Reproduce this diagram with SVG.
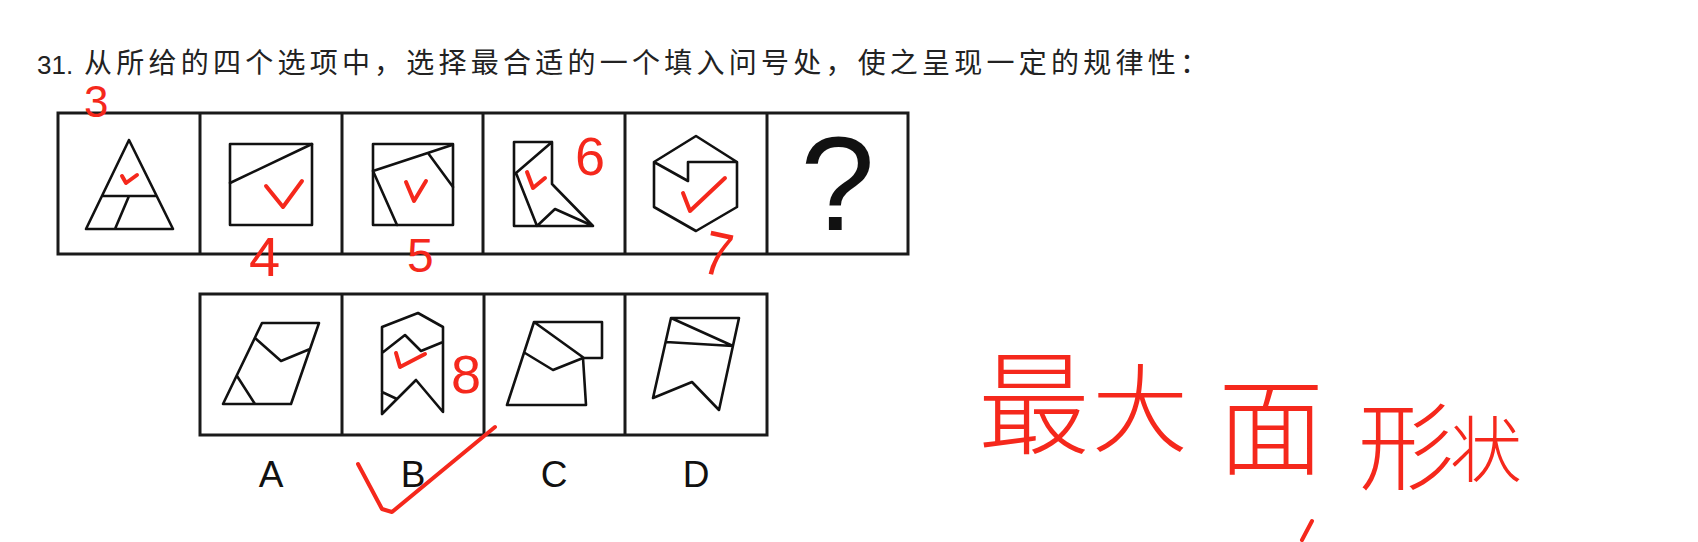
<svg xmlns="http://www.w3.org/2000/svg" width="1698" height="542" viewBox="0 0 1698 542">
<style>
.box{fill:none;stroke:#1a1a1a;stroke-width:3}
.fig{fill:none;stroke:#111;stroke-width:2.6;stroke-linejoin:round;stroke-linecap:round}
.red{fill:none;stroke:#f5281c;stroke-width:4;stroke-linecap:round;stroke-linejoin:round}
.rt{fill:#f5281c;font-family:"Liberation Sans",sans-serif}
.hw{fill:#f5281c;font-family:"Noto Sans CJK SC",sans-serif;font-weight:300}
.lbl{fill:#111;font-family:"Liberation Sans",sans-serif;font-size:37px;text-anchor:middle}
</style>
<rect width="1698" height="542" fill="#fff"/>
<g id="title">
<text x="37" y="74" font-family="Liberation Sans,sans-serif" font-size="26" fill="#222">31.</text>
<text x="84" y="73" font-family="Noto Sans CJK SC,sans-serif" font-size="28" fill="#222" textLength="1124" lengthAdjust="spacing">从所给的四个选项中，选择最合适的一个填入问号处，使之呈现一定的规律性：</text>
</g>
<g id="row1">
<rect class="box" x="58" y="113" width="850" height="141"/>
<path class="box" d="M200 113V254M342 113V254M483 113V254M625 113V254M767 113V254"/>
</g>
<g id="fig1">
<path class="fig" d="M129 140L86 229H173Z M103 196H156 M129 196L115 229"/>
</g>
<g id="fig2">
<rect class="fig" x="230" y="144" width="82" height="81"/>
<path class="fig" d="M230 183L312 144"/>
</g>
<g id="fig3">
<rect class="fig" x="373" y="144" width="80" height="81"/>
<path class="fig" d="M373 171L452 145 M428 153L453 187 M373 171L397 225"/>
</g>
<g id="fig4">
<path class="fig" d="M552 184V142H514V226H593L552 184 M552 142L516 173L537 226 M537 226L555 209L593 226"/>
</g>
<g id="fig5">
<path class="fig" d="M696 136L737 162V207L696 231L654 207V162Z M654 162L688 181V162H737"/>
</g>
<g id="fig6">
<text x="837.5" y="230" font-family="Liberation Sans,sans-serif" font-size="134" text-anchor="middle" fill="#111">?</text>
</g>
<g id="row2">
<rect class="box" x="200" y="294" width="567" height="141"/>
<path class="box" d="M342 294V435M484 294V435M625 294V435"/>
</g>
<g id="optA">
<path class="fig" d="M262 323H319L291 404H223Z M255 338L281 361L310 349 M237 376L255 404"/>
<text class="lbl" x="271" y="487">A</text>
</g>
<g id="optB">
<path class="fig" d="M418 313L443 327V412L416 380L382 414V327Z M382 353L405 335L421 351L443 342 M382 392L397 399"/>
<text class="lbl" x="413" y="487">B</text>
</g>
<g id="optC">
<path class="fig" d="M534 322H602V358H583 M534 322L584 358 M534 322L507 405H586L583 358 M525 353L553 370L583 358"/>
<text class="lbl" x="554" y="487">C</text>
</g>
<g id="optD">
<path class="fig" d="M671 318H739L719 410L692 382L653 398Z M666 342L733 346 M671 318L733 346"/>
<text class="lbl" x="696" y="487">D</text>
</g>
<g id="annotations">
<path class="red" d="M122 176L126 183L137 175"/>
<path class="red" d="M266 186L283 207L302 181"/>
<path class="red" d="M406 182L414 201L426 181"/>
<path class="red" d="M527 172L533 188L545 178"/>
<path class="red" d="M683 193L690 211L725 178"/>
<path class="red" d="M396 353L400 367L425 354"/>
<path class="red" d="M358 464L382 509L392 512L495 427"/>
<path class="red" d="M1302 540L1312 521"/>
<text class="rt" x="84" y="117" font-size="44">3</text>
<text class="rt" x="249" y="276" font-size="56">4</text>
<text class="rt" x="407" y="272" font-size="48">5</text>
<text class="rt" x="575" y="175" font-size="54">6</text>
<text class="rt" x="0" y="0" font-size="62" transform="translate(700 272) rotate(12) scale(0.8 1)">7</text>
<text class="rt" x="451" y="393" font-size="54">8</text>
<text class="hw" x="978" y="446" font-size="112">最</text>
<text class="hw" x="1092" y="444" font-size="96">大</text>
<text class="hw" x="1218" y="466" font-size="106">面</text>
<text class="hw" x="1358" y="482" font-size="96">形</text>
<text class="hw" x="1450" y="476" font-size="72">状</text>
</g>
</svg>
